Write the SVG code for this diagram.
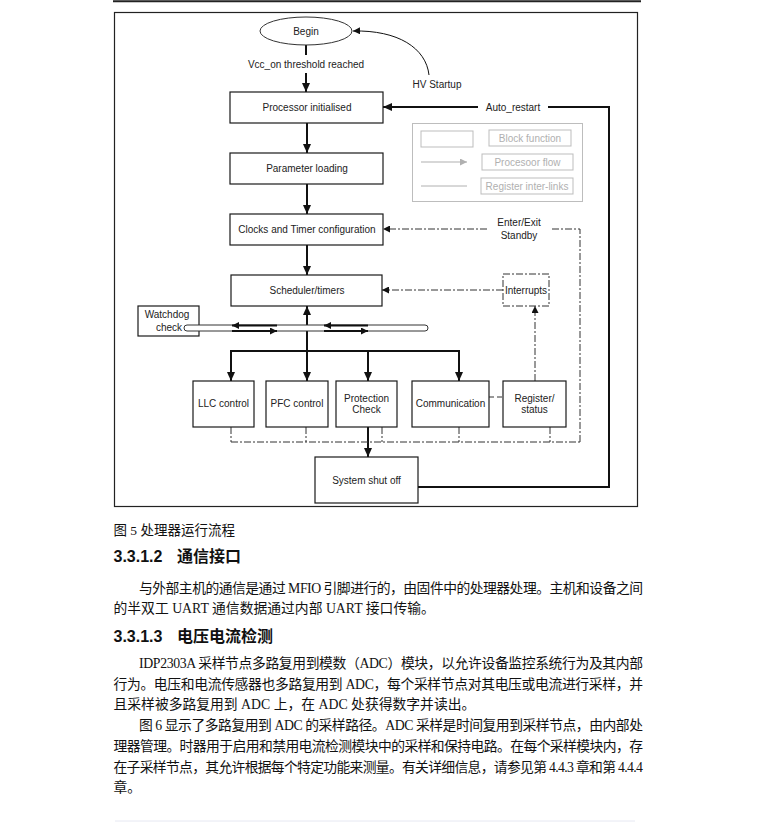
<svg xmlns="http://www.w3.org/2000/svg" width="757" height="822" viewBox="0 0 757 822">
<defs>
<style>
.box{fill:#fff;stroke:#1a1a1a;stroke-width:1.2}
.t{font-family:"Liberation Sans",Arial,sans-serif;font-size:10px;fill:#222;text-anchor:middle}
.flow{stroke:#111;stroke-width:2;fill:none}
.thin{stroke:#111;stroke-width:1;fill:none}
.dd{stroke:#333;stroke-width:1;fill:none;stroke-dasharray:7 2 2 2}
.leg{fill:none;stroke:#bdbdbd;stroke-width:1}
.lt{font-family:"Liberation Sans",Arial,sans-serif;font-size:10px;fill:#b0b0b0;text-anchor:middle}
.body{font-family:"Liberation Serif","Noto Sans CJK SC",serif;font-size:13.8px;fill:#111}
.cap{font-family:"Liberation Serif","Noto Sans CJK SC",serif;font-size:13.5px;fill:#111}
.h{font-family:"Liberation Sans","Noto Sans CJK SC",sans-serif;font-size:16px;font-weight:bold;fill:#111}
</style>
<marker id="ah" markerUnits="userSpaceOnUse" markerWidth="10" markerHeight="8" refX="9" refY="4" orient="auto"><path d="M0,0 L9,4 L0,8 z" fill="#111"/></marker>
<marker id="as" markerUnits="userSpaceOnUse" markerWidth="8" markerHeight="7" refX="7" refY="3.5" orient="auto"><path d="M0,0 L7,3.5 L0,7 z" fill="#111"/></marker>
<marker id="ag" markerUnits="userSpaceOnUse" markerWidth="8" markerHeight="7" refX="7" refY="3.5" orient="auto"><path d="M0,0 L7,3.5 L0,7 z" fill="#b0b0b0"/></marker>
</defs>
<rect width="757" height="822" fill="#fff"/>
<line x1="113" y1="1.2" x2="641" y2="1.2" stroke="#222" stroke-width="2"/>
<rect x="114.5" y="12.5" width="523" height="494" fill="none" stroke="#222" stroke-width="1.2"/>

<g id="connectors">
<line class="flow" x1="306" y1="45" x2="306" y2="55"/>
<line class="flow" x1="306" y1="73" x2="306" y2="92" marker-end="url(#ah)"/>
<path class="thin" d="M429,75 C426,48 398,30 353,31" marker-end="url(#as)"/>
<line class="flow" x1="307" y1="123" x2="307" y2="153" marker-end="url(#ah)"/>
<line class="flow" x1="307" y1="184" x2="307" y2="214" marker-end="url(#ah)"/>
<line class="flow" x1="307" y1="245" x2="307" y2="275" marker-end="url(#ah)"/>
<line class="flow" x1="307" y1="325" x2="307" y2="306" marker-end="url(#ah)"/>
<line class="flow" x1="307" y1="331" x2="307" y2="381" marker-end="url(#ah)"/>
<line class="flow" x1="230" y1="351" x2="459" y2="351"/>
<line class="flow" x1="231" y1="350" x2="231" y2="381" marker-end="url(#ah)"/>
<line class="flow" x1="368" y1="351" x2="368" y2="381" marker-end="url(#ah)"/>
<line class="flow" x1="459" y1="350" x2="459" y2="381" marker-end="url(#ah)"/>
<line class="flow" x1="368" y1="427" x2="368" y2="457" marker-end="url(#ah)"/>
<path class="flow" d="M418,487 H609 V107 H548" stroke-width="1.8"/>
<line class="flow" x1="478" y1="107" x2="383" y2="107" stroke-width="1.8" marker-end="url(#ah)"/>
<path class="dd" d="M580,442 V229 H552"/>
<line class="dd" x1="487" y1="229" x2="383" y2="229" marker-end="url(#as)"/>
<line class="dd" x1="503" y1="290" x2="382" y2="290" marker-end="url(#as)"/>
<line class="dd" x1="535" y1="381" x2="535" y2="306" marker-end="url(#as)"/>
<path class="dd" d="M231,442 H580 M231,427 V442 M306,427 V442 M382,427 V442 M459,427 V442 M550,427 V442"/>
<line x1="489" y1="397" x2="503" y2="397" stroke="#333" stroke-width="1" stroke-dasharray="5 3"/>
</g>

<g id="begin"><ellipse cx="306" cy="31" rx="46" ry="14" fill="#fff" stroke="#333" stroke-width="1"/><text class="t" x="306" y="34.5">Begin</text></g>
<text class="t" x="306" y="67.5">Vcc_on threshold reached</text>
<text class="t" x="437" y="88">HV Startup</text>
<text class="t" x="513" y="110.5">Auto_restart</text>
<text class="t" x="519" y="226">Enter/Exit</text>
<text class="t" x="519" y="239">Standby</text>

<g id="processor"><rect class="box" x="230" y="92" width="153" height="31"/><text class="t" x="307" y="111">Processor initialised</text></g>
<g id="parameter"><rect class="box" x="230" y="153" width="153" height="31"/><text class="t" x="307" y="172">Parameter loading</text></g>
<g id="clocks"><rect class="box" x="230" y="214" width="153" height="31"/><text class="t" x="307" y="233">Clocks and Timer configuration</text></g>
<g id="scheduler"><rect class="box" x="231" y="275" width="151" height="31"/><text class="t" x="307" y="294">Scheduler/timers</text></g>
<g id="interrupts"><rect x="503" y="274" width="46" height="32" fill="#fff" class="dd"/><text class="t" x="526" y="294">Interrupts</text></g>
<g id="watchdog"><rect class="box" x="138" y="306" width="61" height="30"/><text class="t" x="167" y="317.5">Watchdog</text><text class="t" x="169" y="330.5">check</text></g>
<g id="bus">
<rect x="184" y="325" width="244" height="6" rx="3" fill="#fff" stroke="#333" stroke-width="1"/>
<line class="flow" x1="277" y1="325.5" x2="232" y2="325.5" stroke-width="1.8" marker-end="url(#as)"/>
<line class="flow" x1="232" y1="331" x2="277" y2="331" stroke-width="1.8" marker-end="url(#as)"/>
<line class="flow" x1="368" y1="325.5" x2="324" y2="325.5" stroke-width="1.8" marker-end="url(#as)"/>
<line class="flow" x1="324" y1="331" x2="368" y2="331" stroke-width="1.8" marker-end="url(#as)"/>
</g>
<g id="llc"><rect class="box" x="193" y="381" width="61" height="46"/><text class="t" x="223.5" y="407">LLC control</text></g>
<g id="pfc"><rect class="box" x="266" y="381" width="62" height="46"/><text class="t" x="297" y="407">PFC control</text></g>
<g id="protection"><rect class="box" x="336" y="381" width="61" height="46"/><text class="t" x="366.5" y="401.5">Protection</text><text class="t" x="366.5" y="413">Check</text></g>
<g id="communication"><rect class="box" x="412" y="381" width="77" height="46"/><text class="t" x="450.5" y="407">Communication</text></g>
<g id="register"><rect class="box" x="503" y="381" width="63" height="46"/><text class="t" x="534.5" y="401.5">Register/</text><text class="t" x="534.5" y="413">status</text></g>
<g id="shutoff"><rect class="box" x="315" y="457" width="103" height="46"/><text class="t" x="366.5" y="483.5">System shut off</text></g>

<g id="legend">
<rect class="leg" x="412.5" y="123.5" width="170" height="78"/>
<rect class="leg" x="421" y="131" width="52" height="16"/>
<rect class="leg" x="489" y="130" width="82" height="16"/><text class="lt" x="530" y="141.5">Block function</text>
<line x1="421" y1="162" x2="467" y2="162" stroke="#b0b0b0" stroke-width="1.2" marker-end="url(#ag)"/>
<rect class="leg" x="482" y="154" width="91" height="16"/><text class="lt" x="527.5" y="165.5">Procesoor flow</text>
<line x1="421" y1="186" x2="467" y2="186" stroke="#b0b0b0" stroke-width="1"/>
<rect class="leg" x="481" y="178" width="92" height="16"/><text class="lt" x="527" y="189.5">Register inter-links</text>
</g>

<text class="cap" x="113.5" y="535">图 5 处理器运行流程</text>
<text class="h" x="113.5" y="562">3.3.1.2</text><text class="h" x="177" y="562">通信接口</text>
<text class="body" x="139" y="593" textLength="504" lengthAdjust="spacing">与外部主机的通信是通过 MFIO 引脚进行的，由固件中的处理器处理。主机和设备之间</text>
<text class="body" x="113.5" y="612.5">的半双工 UART 通信数据通过内部 UART 接口传输。</text>
<text class="h" x="113.5" y="642">3.3.1.3</text><text class="h" x="177" y="642">电压电流检测</text>
<text class="body" x="139" y="668" textLength="504" lengthAdjust="spacing">IDP2303A 采样节点多路复用到模数（ADC）模块，以允许设备监控系统行为及其内部</text>
<text class="body" x="113.5" y="689" textLength="529.5" lengthAdjust="spacing">行为。电压和电流传感器也多路复用到 ADC，每个采样节点对其电压或电流进行采样，并</text>
<text class="body" x="113.5" y="708.5">且采样被多路复用到 ADC 上，在 ADC 处获得数字并读出。</text>
<text class="body" x="139" y="730" textLength="504" lengthAdjust="spacing">图 6 显示了多路复用到 ADC 的采样路径。ADC 采样是时间复用到采样节点，由内部处</text>
<text class="body" x="113.5" y="751" textLength="529.5" lengthAdjust="spacing">理器管理。时器用于启用和禁用电流检测模块中的采样和保持电路。在每个采样模块内，存</text>
<text class="body" x="113.5" y="772" textLength="529.5" lengthAdjust="spacing">在子采样节点，其允许根据每个特定功能来测量。有关详细信息，请参见第 4.4.3 章和第 4.4.4</text>
<text class="body" x="113.5" y="792">章。</text>
<line x1="115" y1="821" x2="635" y2="821" stroke="#e6e8f2" stroke-width="1"/>
</svg>
